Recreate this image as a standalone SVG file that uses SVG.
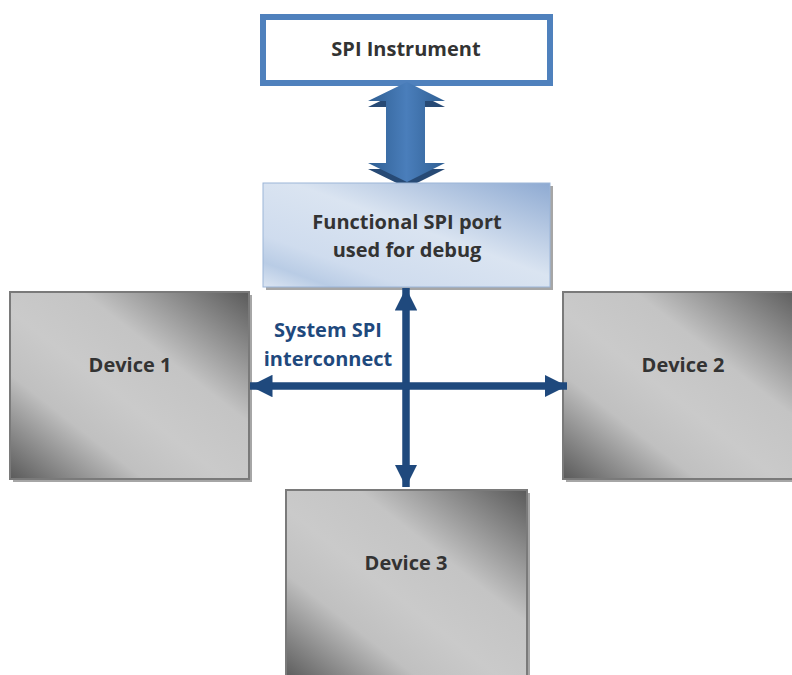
<svg xmlns="http://www.w3.org/2000/svg" width="792" height="675" viewBox="0 0 792 675">
<defs>
  <linearGradient id="gray" x1="1" y1="0" x2="0" y2="1">
    <stop offset="0" stop-color="#5a5a5a"/>
    <stop offset="0.35" stop-color="#c4c4c4"/>
    <stop offset="0.55" stop-color="#cacaca"/>
    <stop offset="0.72" stop-color="#c0c0c0"/>
    <stop offset="1" stop-color="#5a5a5a"/>
  </linearGradient>
  <linearGradient id="blue" x1="1" y1="0" x2="0" y2="1">
    <stop offset="0" stop-color="#8eaad2"/>
    <stop offset="0.45" stop-color="#dae4f1"/>
    <stop offset="0.75" stop-color="#cfdcee"/>
    <stop offset="0.88" stop-color="#b9cce5"/>
    <stop offset="1" stop-color="#dbe5f2"/>
  </linearGradient>
  <linearGradient id="barrow" x1="0" y1="0" x2="1" y2="0">
    <stop offset="0" stop-color="#2f5f93"/>
    <stop offset="0.5" stop-color="#4a7ebb"/>
    <stop offset="1" stop-color="#2f5f93"/>
  </linearGradient>
  <marker id="ah" viewBox="0 0 10 10" refX="10" refY="5" markerWidth="3" markerHeight="3" orient="auto-start-reverse" markerUnits="strokeWidth">
    <path d="M0,0 L10,5 L0,10 z" fill="#1f497d"/>
  </marker>
  <style>
    .lbl{font-family:"Open Sans","Noto Sans","Liberation Sans",sans-serif;font-weight:bold;font-size:20px;fill:#333333;text-anchor:middle}
    .blue{fill:#1f497d}
    .shadow{fill:#a6a6a6}
    .dev{fill:url(#gray);stroke:#7a7a7a;stroke-width:2}
    .conn{stroke:#1f497d;stroke-width:7.5;fill:none}
  </style>
</defs>
<rect width="792" height="675" fill="#ffffff"/>

<g id="spi-instrument">
  <rect x="263" y="17" width="287" height="66" fill="#ffffff" stroke="#4f81bd" stroke-width="6"/>
  <text class="lbl" x="406" y="56">SPI Instrument</text>
</g>

<g id="block-arrow">
  <polygon points="407,88 445,107 425,107 425,169 445,169 407,188 368,169 386,169 386,107 368,107" fill="#274a75"/>
  <polygon points="407,82 445,101 425,101 425,163 445,163 407,182 368,163 386,163 386,101 368,101" fill="url(#barrow)"/>
</g>

<g id="functional-spi-port">
  <rect x="266" y="186" width="287" height="104" class="shadow"/>
  <rect x="263" y="183" width="287" height="104" fill="url(#blue)" stroke="#9bb5d8" stroke-width="1"/>
  <text class="lbl" x="407" y="229">Functional SPI port</text>
  <text class="lbl" x="407" y="257">used for debug</text>
</g>

<g id="device-1">
  <rect x="13" y="295" width="239" height="187" class="shadow"/>
  <rect x="10" y="292" width="239" height="187" class="dev"/>
  <text class="lbl" x="130" y="372">Device 1</text>
</g>

<g id="device-2">
  <rect x="566" y="295" width="239" height="187" class="shadow"/>
  <rect x="563" y="292" width="239" height="187" class="dev"/>
  <text class="lbl" x="683" y="372">Device 2</text>
</g>

<g id="device-3">
  <rect x="289" y="493" width="241" height="190" class="shadow"/>
  <rect x="286" y="490" width="241" height="190" class="dev"/>
  <text class="lbl" x="406" y="570">Device 3</text>
</g>

<g id="connectors">
  <line class="conn" x1="406" y1="288" x2="406" y2="487" marker-start="url(#ah)" marker-end="url(#ah)"/>
  <line class="conn" x1="250" y1="386" x2="567" y2="386" marker-start="url(#ah)" marker-end="url(#ah)"/>
  <text class="lbl blue" x="328" y="337">System SPI</text>
  <text class="lbl blue" x="328" y="366">interconnect</text>
</g>
</svg>
